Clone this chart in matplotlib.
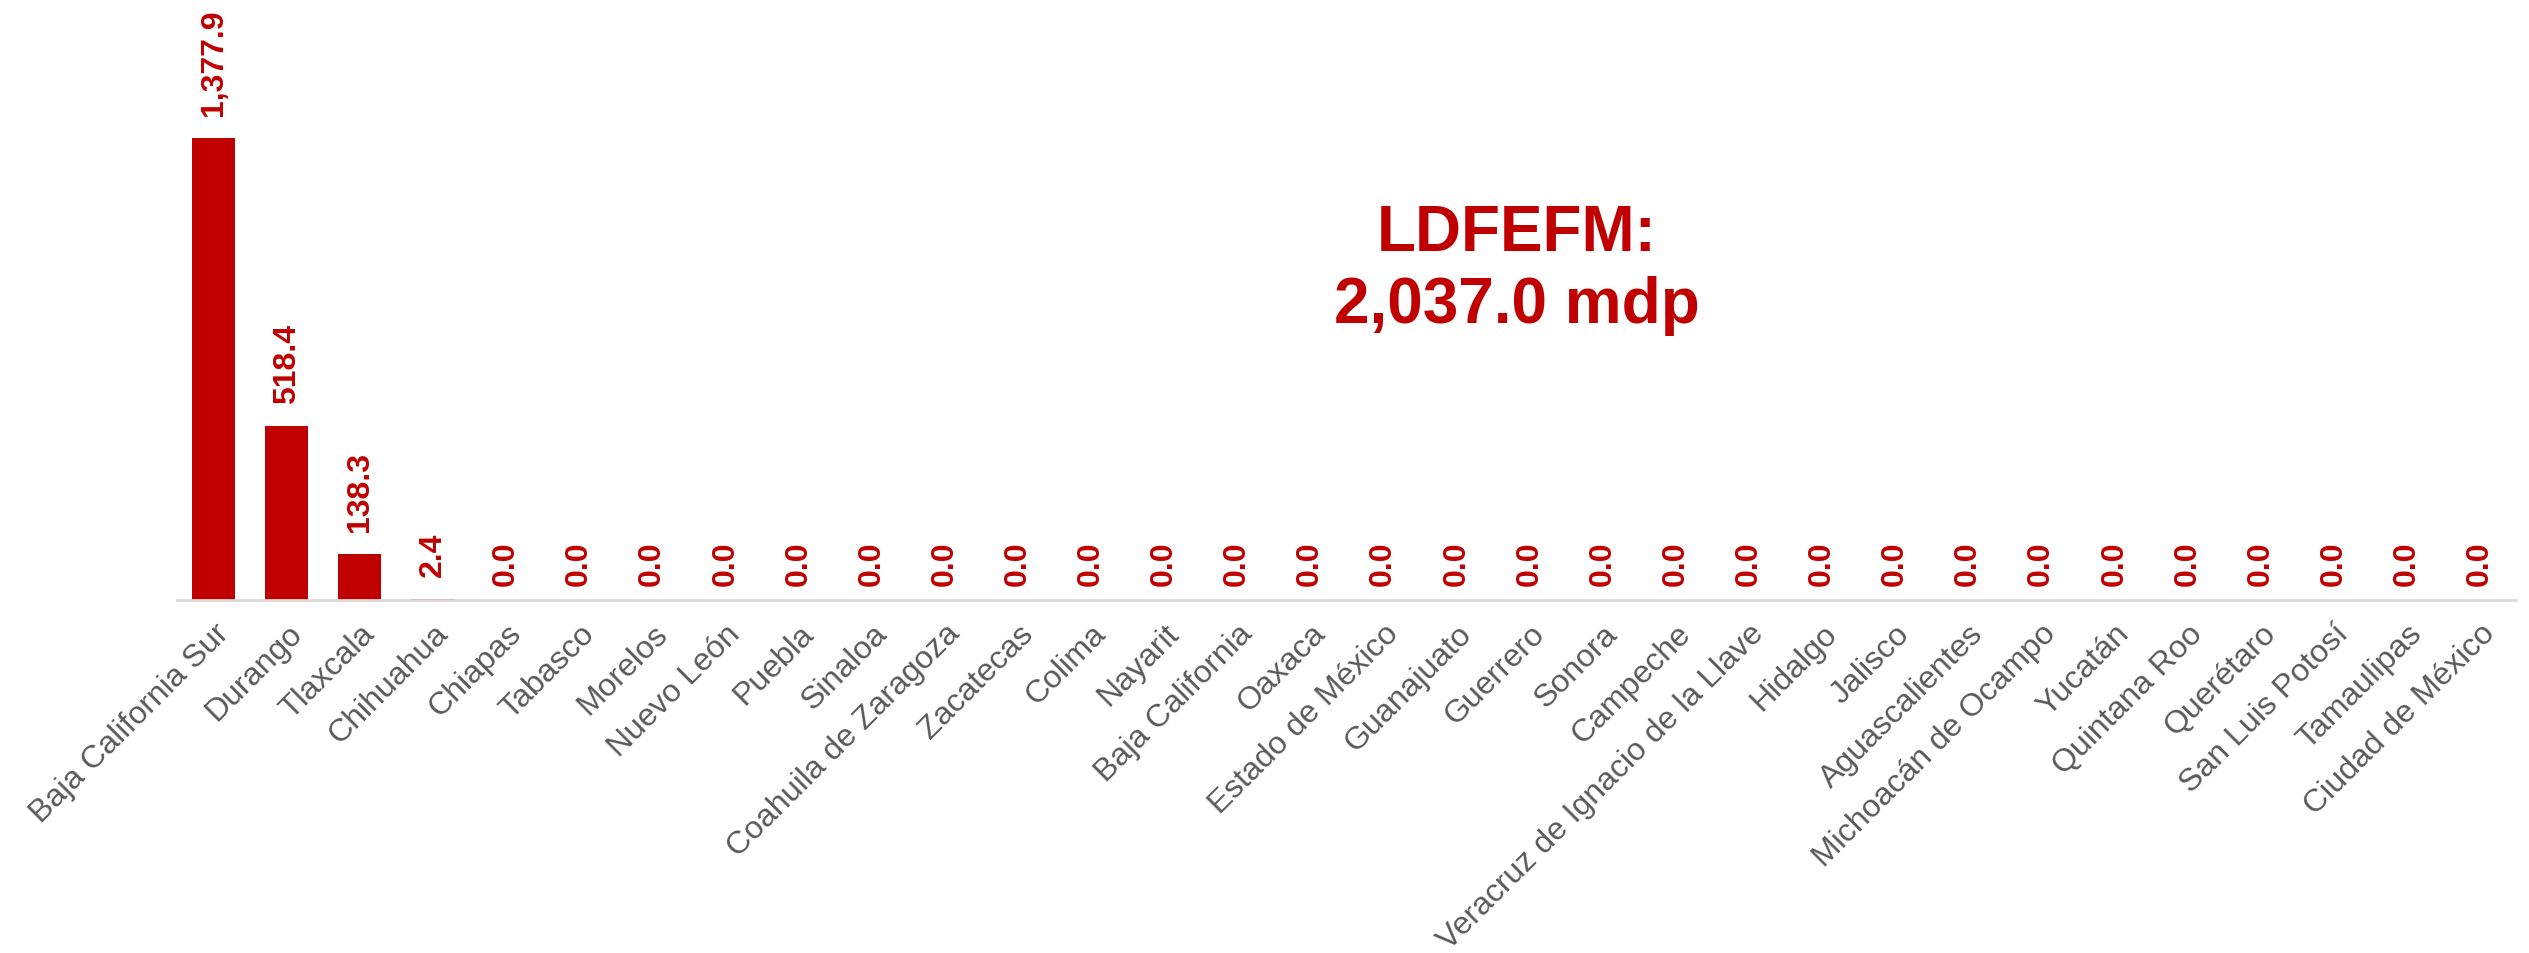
import matplotlib
matplotlib.use("Agg")
import matplotlib.pyplot as plt

categories = ["Baja California Sur", "Durango", "Tlaxcala", "Chihuahua", "Chiapas", "Tabasco",
              "Morelos", "Nuevo León", "Puebla", "Sinaloa", "Coahuila de Zaragoza", "Zacatecas",
              "Colima", "Nayarit", "Baja California", "Oaxaca", "Estado de México", "Guanajuato",
              "Guerrero", "Sonora", "Campeche", "Veracruz de Ignacio de la Llave", "Hidalgo",
              "Jalisco", "Aguascalientes", "Michoacán de Ocampo", "Yucatán", "Quintana Roo",
              "Querétaro", "San Luis Potosí", "Tamaulipas", "Ciudad de México"]
values = [1377.9, 518.4, 138.3, 2.4] + [0.0] * 28
title_text = "LDFEFM:\n2,037.0 mdp"

RED = "#C00000"
GRAY = "#595959"
plt.rcParams['font.family'] = ['Liberation Sans', 'DejaVu Sans']

fig = plt.figure(figsize=(25.29, 9.54), dpi=100)
ax = fig.add_axes([0.070, 0.370, 0.925, 0.630])
x = list(range(len(categories)))
ax.bar(x, values, width=0.59, color=RED)
ax.set_xlim(-0.5, len(categories) - 0.5)
ax.set_ylim(0, 1793)

for xi, v in zip(x, values):
    off = 16.5 if v > 0 else 11.0
    ax.annotate(f"{v:,.1f}", (xi, v), xytext=(0, off), textcoords="offset points",
                rotation=90, ha="center", va="bottom", color=RED,
                fontsize=23, fontweight="bold")

ax.set_xticks(x)
ax.set_xticklabels(categories, rotation=45, ha="right", rotation_mode="anchor",
                   fontsize=23, color=GRAY)
ax.tick_params(axis="x", length=0, pad=13)
ax.set_yticks([])
for s in ["top", "right", "left"]:
    ax.spines[s].set_visible(False)
ax.spines["bottom"].set_color("#D9D9D9")
ax.spines["bottom"].set_linewidth(2)

fig.text(1517 / 2529, 1 - 270 / 954, title_text, ha="center", va="center",
         color=RED, fontsize=46, fontweight="bold", linespacing=1.24)

fig.savefig("out.png", dpi=100)
